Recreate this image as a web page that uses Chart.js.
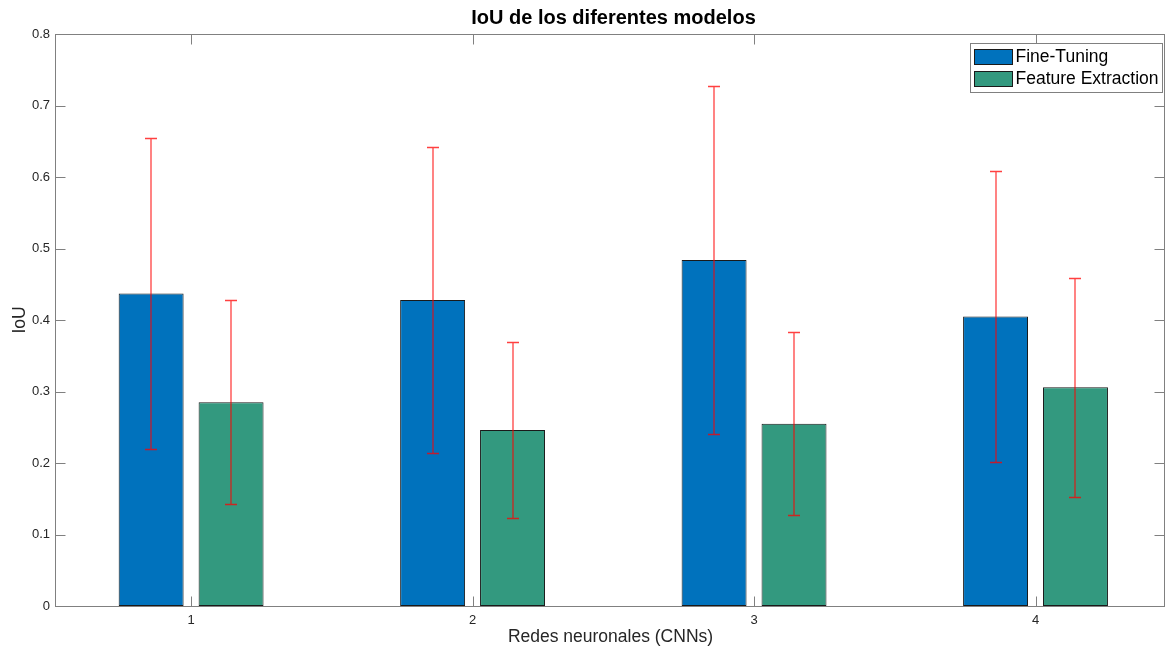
<!DOCTYPE html>
<html>
<head>
<meta charset="utf-8">
<script src="https://cdn.jsdelivr.net/npm/chart.js@4.4.1/dist/chart.umd.min.js"></script>
<style>
  body { margin: 0; background: #fff; }
  #wrap { width: 1166px; height: 649px; }
</style>
</head>
<body>
<div id="wrap"><canvas id="myChart" width="1166" height="649"></canvas></div>
<script>
// data
const networks = [1, 2, 3, 4];
const fineTuning = [0.437, 0.428, 0.484, 0.405];
const fineTuningErr = [0.218, 0.214, 0.243, 0.204];
const featureExt = [0.285, 0.246, 0.255, 0.306];
const featureExtErr = [0.143, 0.123, 0.128, 0.153];
const yTicks = [0, 0.1, 0.2, 0.3, 0.4, 0.5, 0.6, 0.7, 0.8];
const chartTitle = "IoU de los diferentes modelos";

const colors = {
    blue: "rgb(0,114,189)",
    green: "rgb(51,153,127)",
    axis: "#262626",
    box: "#808080",
    err: "rgba(255,0,0,0.75)"
};
const fontFamily = "'Liberation Sans', Arial, Helvetica, sans-serif";

const errors = [fineTuningErr, featureExtErr];

// white background, title over the axes, box with inside ticks, error bars, legend
const matlabLook = {
    id: "matlabLook",
    beforeDraw(chart) {
        const ctx = chart.ctx;
        ctx.save();
        ctx.fillStyle = "#fff";
        ctx.fillRect(0, 0, chart.width, chart.height);
        ctx.restore();
    },
    afterDatasetsDraw(chart) {
        const ctx = chart.ctx;
        const y = chart.scales.y;
        ctx.save();
        ctx.strokeStyle = colors.err;
        ctx.lineWidth = 1.3;
        chart.data.datasets.forEach((ds, i) => {
            const meta = chart.getDatasetMeta(i);
            meta.data.forEach((bar, j) => {
                const v = ds.data[j].y;
                const e = errors[i][j];
                const x = Math.round(bar.x);
                const yt = Math.round(y.getPixelForValue(v + e)) + 0.5;
                const yb = Math.round(y.getPixelForValue(v - e)) + 0.5;
                ctx.beginPath();
                ctx.moveTo(x, yt); ctx.lineTo(x, yb);
                ctx.moveTo(x - 6, yt); ctx.lineTo(x + 6, yt);
                ctx.moveTo(x - 6, yb); ctx.lineTo(x + 6, yb);
                ctx.stroke();
            });
        });
        ctx.restore();
    },
    afterDraw(chart) {
        const ctx = chart.ctx;
        const a = chart.chartArea;
        const xs = chart.scales.x, ys = chart.scales.y;
        const L = Math.round(a.left) - 0.5, R = Math.round(a.right) - 0.5;
        const T = Math.round(a.top) + 0.5, B = Math.round(a.bottom) + 0.5;
        ctx.save();

        // title centred on the axes, as MATLAB does
        ctx.fillStyle = "#000";
        ctx.font = "bold 20px " + fontFamily;
        ctx.textAlign = "center";
        ctx.textBaseline = "middle";
        ctx.fillText(chartTitle, (a.left + a.right) / 2 + 3, 18.5);
        ctx.textAlign = "left";

        ctx.strokeStyle = colors.box;
        ctx.lineWidth = 1;
        ctx.strokeRect(L, T, R - L, B - T);
        ctx.beginPath();
        yTicks.forEach(v => {
            const py = Math.round(ys.getPixelForValue(v)) + 0.5;
            ctx.moveTo(L, py); ctx.lineTo(L + 10, py);
            ctx.moveTo(R, py); ctx.lineTo(R - 10, py);
        });
        networks.forEach(v => {
            const px = Math.round(xs.getPixelForValue(v)) + 0.5;
            ctx.moveTo(px, B); ctx.lineTo(px, B - 10);
            ctx.moveTo(px, T); ctx.lineTo(px, T + 10);
        });
        ctx.stroke();

        // legend box in the upper right corner
        const lx = Math.round(a.right) - 194.5, ly = T + 9;
        ctx.fillStyle = "#fff";
        ctx.fillRect(lx, ly, 192, 49);
        ctx.strokeStyle = colors.box;
        ctx.strokeRect(lx, ly, 192, 49);
        ctx.font = "17.5px " + fontFamily;
        ctx.textBaseline = "middle";
        chart.data.datasets.forEach((ds, i) => {
            const sy = ly + 6 + i * 22;
            ctx.fillStyle = ds.backgroundColor;
            ctx.fillRect(lx + 4, sy, 38, 15);
            ctx.strokeStyle = "#1a1a1a";
            ctx.strokeRect(lx + 4, sy, 38, 15);
            ctx.fillStyle = "#000";
            ctx.fillText(ds.label, lx + 45, sy + 8);
        });
        ctx.restore();
    }
};

const ctx = document.getElementById("myChart").getContext("2d");
const myChart = new Chart(ctx, {
    type: "bar",
    data: {
        datasets: [
            {
                label: "Fine-Tuning",
                data: networks.map((n, i) => ({ x: n, y: fineTuning[i] })),
                backgroundColor: colors.blue,
                borderColor: "#1a1a1a",
                borderWidth: 1,
                borderSkipped: false
            },
            {
                label: "Feature Extraction",
                data: networks.map((n, i) => ({ x: n, y: featureExt[i] })),
                backgroundColor: colors.green,
                borderColor: "#1a1a1a",
                borderWidth: 1,
                borderSkipped: false
            }
        ]
    },
    options: {
        responsive: false,
        animation: false,
        devicePixelRatio: 1,
        categoryPercentage: 0.568,
        barPercentage: 0.8125,
        layout: { padding: { left: 0, right: 1, top: 34, bottom: 0 } },
        plugins: {
            legend: { display: false },
            tooltip: { enabled: false },
            title: { display: false }
        },
        scales: {
            x: {
                type: "linear",
                min: 0.52,
                max: 4.46,
                offset: false,
                grid: { display: false, drawTicks: false, tickLength: 0 },
                border: { display: false },
                afterBuildTicks: s => { s.ticks = networks.map(v => ({ value: v })); },
                afterFit: s => { s.height = 43; },
                ticks: {
                    color: colors.axis,
                    font: { family: fontFamily, size: 13 },
                    padding: 7,
                    maxRotation: 0
                },
                title: {
                    display: true,
                    text: "Redes neuronales (CNNs)",
                    color: colors.axis,
                    font: { family: fontFamily, size: 17.5 },
                    padding: { top: 0, bottom: 1.5 }
                }
            },
            y: {
                min: 0,
                max: 0.8,
                grid: { display: false, drawTicks: false, tickLength: 0 },
                border: { display: false },
                afterBuildTicks: s => { s.ticks = yTicks.map(v => ({ value: v })); },
                afterFit: s => { s.width = 56; },
                ticks: {
                    color: colors.axis,
                    font: { family: fontFamily, size: 13 },
                    padding: 6,
                    callback: v => String(+v.toFixed(1))
                },
                title: {
                    display: true,
                    text: "IoU",
                    color: colors.axis,
                    font: { family: fontFamily, size: 17.5 },
                    padding: { top: 9.5, bottom: 0 }
                }
            }
        }
    },
    plugins: [matlabLook]
});
</script>
</body>
</html>
